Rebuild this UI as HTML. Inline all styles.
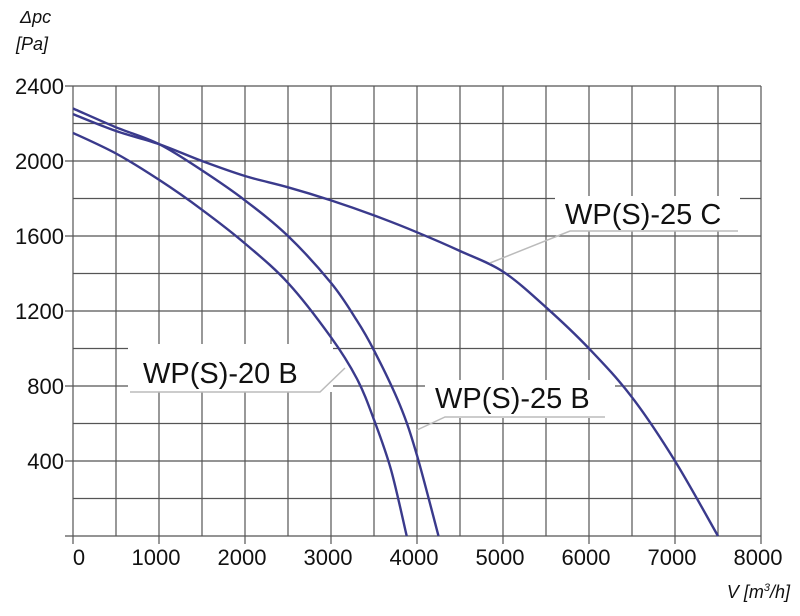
<!DOCTYPE html>
<html><head><meta charset="utf-8"><style>
html,body{margin:0;padding:0;background:#fff;}
svg text{font-family:"Liberation Sans",sans-serif;fill:#111;}
</style></head><body>
<svg id="chart" width="800" height="611" viewBox="0 0 800 611" xmlns="http://www.w3.org/2000/svg">
<g id="grid"></g>
<g id="curves"></g>
<g id="labels"></g>
<g id="axes"></g>
<text x="20" y="23" font-size="18" font-style="italic">Δpc</text>
<text x="16" y="50" font-size="18" font-style="italic">[Pa]</text>
<text x="790" y="598" font-size="18" font-style="italic" text-anchor="end">V [m<tspan font-size="11" dy="-7">3</tspan><tspan dy="7">/h]</tspan></text>
</svg>
<script>
const xTicks=[0,1000,2000,3000,4000,5000,6000,7000,8000];
const yTicks=[400,800,1200,1600,2000,2400];
const seriesNames=["WP(S)-20 B","WP(S)-25 B","WP(S)-25 C"];
const x20B=[0,500,1000,1500,2000,2500,3000,3300,3500,3700,3880];
const y20B=[2150,2040,1900,1740,1560,1350,1060,840,620,350,0];
const x25B=[0,500,1000,1500,2000,2500,3000,3300,3500,3800,4000,4250];
const y25B=[2280,2180,2090,1950,1790,1600,1350,1150,990,700,430,0];
const x25C=[0,500,1000,1500,2000,2500,3000,3500,4000,4500,5000,5500,6000,6500,7000,7500];
const y25C=[2250,2160,2090,2000,1920,1860,1790,1710,1620,1520,1410,1220,1000,740,400,0];
const NS='http://www.w3.org/2000/svg';
const X=v=>73+v*(688/8000);
const Y=v=>536-v*(450/2400);
function mk(t,a,p){const e=document.createElementNS(NS,t);for(const k in a)e.setAttribute(k,a[k]);p.appendChild(e);return e;}
const grid=document.getElementById('grid');
for(let v=0;v<=8000;v+=500){const l=mk('line',{x1:X(v),x2:X(v),y1:Y(2400),y2:Y(0)+(v%1000===0?8:0),stroke:'#555','stroke-width':1.2},grid);

}
for(let v=0;v<=2400;v+=200){const l=mk('line',{x1:X(0)-(v%400===0?8:0),x2:X(8000),y1:Y(v),y2:Y(v),stroke:'#555','stroke-width':1.2},grid);

}
const axes=document.getElementById('axes');
xTicks.forEach(v=>{const t=mk('text',{x:X(v)+(v===0?6:-3),y:565,'font-size':22,'text-anchor':'middle'},axes);t.textContent=v;

});
yTicks.forEach(v=>{const t=mk('text',{x:64,y:Y(v)+8,'font-size':22,'text-anchor':'end'},axes);t.textContent=v;

});
const curves=document.getElementById('curves');
function curve(xs,ys,name){
const P=xs.map((x,i)=>[X(x),Y(ys[i])]);
let d='M'+P[0][0].toFixed(1)+','+P[0][1].toFixed(1);
for(let i=0;i<P.length-1;i++){const p0=P[Math.max(0,i-1)],p1=P[i],p2=P[i+1],p3=P[Math.min(P.length-1,i+2)];
const c1=[p1[0]+(p2[0]-p0[0])/6,p1[1]+(p2[1]-p0[1])/6],c2=[p2[0]-(p3[0]-p1[0])/6,p2[1]-(p3[1]-p1[1])/6];
d+='C'+c1.map(v=>v.toFixed(1)).join(',')+' '+c2.map(v=>v.toFixed(1)).join(',')+' '+p2.map(v=>v.toFixed(1)).join(',');}
const p=mk('path',{d:d,fill:'none',stroke:'#3a3a8c','stroke-width':2.4,'stroke-linejoin':'round'},curves);

}
curve(x20B,y20B,'curve-wp-s-20-b');
curve(x25B,y25B,'curve-wp-s-25-b');
curve(x25C,y25C,'curve-wp-s-25-c');
const labels=document.getElementById('labels');
const boxes=[[128,344,205,48,143,383,[[130,392],[320,392],[345,368]]],[425,380,190,38,435,408,[[605,417],[445,417],[417,430]]],[555,196,185,35,565,224,[[738,231],[570,231],[490,263]]]];
boxes.forEach((b,i)=>{const g=mk('g',{},labels);


mk('rect',{x:b[0],y:b[1],width:b[2],height:b[3],fill:'#fff'},g);
mk('polyline',{points:b[6].map(p=>p.join(',')).join(' '),fill:'none',stroke:'#bbb','stroke-width':1.5},g);
const t=mk('text',{x:b[4],y:b[5],'font-size':29},g);t.textContent=seriesNames[i];});
</script>
</body></html>
